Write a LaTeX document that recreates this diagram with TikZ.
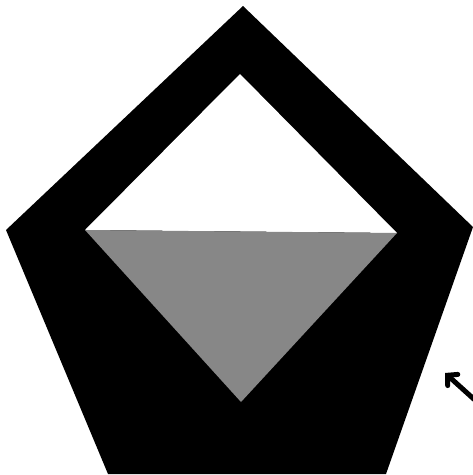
\documentclass[tikz,border=0pt]{standalone}
\usetikzlibrary{arrows.meta}
\begin{document}
\begin{tikzpicture}[x=1pt,y=-1pt,
  frame/.style={fill=black},
  hole/.style={fill=white},
  sand/.style={fill=black!47},
  pointer/.style={line width=5pt,line cap=round,-{Straight Barb[length=7pt,width=15pt,line width=5pt,line cap=round]}}]
\useasboundingbox (0,0) rectangle (473,475);
% outer pentagon
\coordinate (pt) at (243,6);
\coordinate (pl) at (6,230);
\coordinate (pr) at (473,227);
\coordinate (pbl) at (108,474);
\coordinate (pbr) at (386,474);
\path[frame] (pt) -- (pr) -- (pbr) -- (pbl) -- (pl) -- cycle;
% inner diamond: white upper part
\coordinate (dt) at (240,74);
\coordinate (dl) at (85,230);
\coordinate (dr) at (397,233);
\coordinate (db) at (241,402);
\path[hole] (dt) -- (dr) -- (dl) -- cycle;
% lower stippled part
\path[sand] (dl) -- (dr) -- (db) -- cycle;
% arrow
\coordinate (atail) at (476,401);
\coordinate (ahead) at (445,373);
\draw[pointer] (atail) -- (ahead);
\end{tikzpicture}
\end{document}
